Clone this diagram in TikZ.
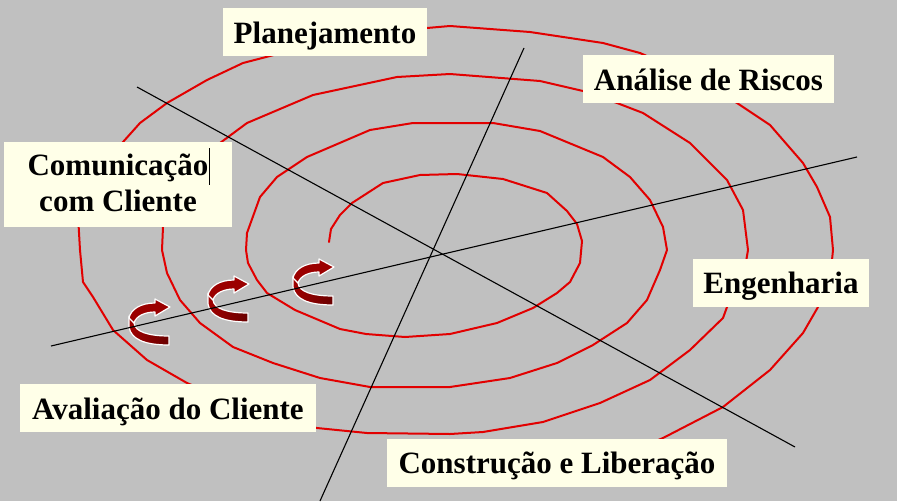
\documentclass[tikz,border=0pt]{standalone}
\usepackage{fontspec}
\setmainfont{Liberation Serif}
\definecolor{bgc}{RGB}{192,192,192}
\definecolor{boxc}{RGB}{255,255,232}
\definecolor{spir}{RGB}{226,0,0}
\definecolor{arrlight}{RGB}{155,0,0}
\definecolor{arrdarkL}{RGB}{160,0,0}
\definecolor{arrdarkR}{RGB}{105,0,0}
\tikzset{
  lblbox/.style={fill=boxc, draw=none, inner sep=0pt},
  lbltxt/.style={anchor=base, inner sep=0pt, font=\bfseries\fontsize{31}{36}\selectfont},
  axis/.style={draw=black, line width=1.1pt},
  spiralline/.style={draw=spir, line width=2pt, line join=round, line cap=round},
  pics/uturn/.style={code={
    \shadedraw[left color=arrdarkL, right color=arrdarkR, draw=white, line width=1.2pt, line join=round]
      (0,17) -- (0,28) .. controls (2,40) and (15,46) .. (40,46) -- (40,37)
      .. controls (20,37) and (6,33) .. (5,24) -- cycle;
    \filldraw[fill=arrlight, draw=white, line width=1.2pt, line join=round]
      (0,19) .. controls (2,10) and (12,4) .. (26,4) -- (26,0) -- (41,8) -- (26,17) -- (26,13)
      .. controls (16,13) and (7,17) .. (5,24) -- cycle;
  }}
}
\begin{document}
\begin{tikzpicture}[x=1pt,y=-1pt]
\useasboundingbox (0,0) rectangle (897,501);
\fill[bgc] (0,0) rectangle (897,501);

% spiral
\draw[spiralline] (329,242) -- (331,229) -- (340,215) -- (352,203) -- (383,183) -- (420,175) -- (457,174)
 -- (503,179) -- (547,193) -- (567,211) -- (577,224) -- (582,241) -- (580,263) -- (570,282) -- (557,293)
 -- (533,308) -- (497,323) -- (450,334) -- (405,337) -- (366,334) -- (340,329) -- (295,310) -- (267,293)
 -- (257,280) -- (248,263) -- (246,250) -- (247,233) -- (260,197) -- (277,177) -- (307,157) -- (370,130)
 -- (413,123) -- (450,123) -- (493,123) -- (540,131) -- (603,157) -- (630,177) -- (650,200) -- (663,227)
 -- (667,250) -- (660,270) -- (647,300) -- (627,323) -- (593,345) -- (557,363) -- (510,378) -- (450,387)
 -- (370,387) -- (320,378) -- (273,363) -- (233,347) -- (200,323) -- (180,300) -- (167,273) -- (162,250)
 -- (163,227) -- (175,198) -- (195,168) -- (220,143) -- (247,123) -- (313,95) -- (397,77) -- (450,74)
 -- (540,81) -- (583,91) -- (617,103) -- (643,113) -- (690,143) -- (727,180) -- (743,210) -- (748,250)
 -- (743,280) -- (727,307) -- (723,318) -- (690,350) -- (650,380) -- (600,403) -- (543,422) -- (483,432)
 -- (450,434) -- (367,433) -- (317,428) -- (250,410) -- (187,383) -- (147,360) -- (113,330) -- (93,297)
 -- (83,282) -- (80,250) -- (78,215) -- (95,175) -- (123,142) -- (140,123) -- (167,103) -- (207,80)
 -- (243,63) -- (270,56) -- (350,35) -- (427,28) -- (450,26) -- (530,32) -- (603,43) -- (640,53)
 -- (690,75) -- (737,103) -- (770,125) -- (803,163) -- (817,187) -- (830,217) -- (833,250) -- (830,280)
 -- (818,307) -- (803,333) -- (770,370) -- (723,407) -- (663,438) -- (610,460);

% curved arrows
\pic at (129,299) {uturn};
\pic at (208,276) {uturn};
\pic at (293,259) {uturn};

% axes
\coordinate (a1s) at (137,87);
\coordinate (a1e) at (795,447);
\coordinate (a2s) at (524,48);
\coordinate (a2e) at (320,501);
\coordinate (a3s) at (51,346);
\coordinate (a3e) at (857,157);
\draw[axis] (a1s) -- (a1e);
\draw[axis] (a2s) -- (a2e);
\draw[axis] (a3s) -- (a3e);

% labels
\node[lblbox, minimum width=204pt, minimum height=48pt] (plan) at (325,32) {};
\node[lbltxt] (plant) at (325,43.3) {Planejamento};

\node[lblbox, minimum width=251pt, minimum height=48pt] (risc) at (708.5,79) {};
\node[lbltxt] (risct) at (708.5,90) {Análise de Riscos};

\node[lblbox, minimum width=228pt, minimum height=85pt] (com) at (118,184.5) {};
\node[lbltxt] (comt1) at (118,175) {Comunicação};
\node[lbltxt] (comt2) at (118,211.7) {com Cliente};
\draw[black, line width=0.8pt] (209.3,148) -- (209.3,185);

\node[lblbox, minimum width=176pt, minimum height=48pt] (eng) at (781,283) {};
\node[lbltxt] (engt) at (781,293.3) {Engenharia};

\node[lblbox, minimum width=296pt, minimum height=48pt] (aval) at (168,408) {};
\node[lbltxt] (avalt) at (168,419.3) {Avaliação do Cliente};

\node[lblbox, minimum width=340pt, minimum height=48pt] (cons) at (557,463) {};
\node[lbltxt] (const) at (557,473.3) {Construção e Liberação};
\end{tikzpicture}
\end{document}
